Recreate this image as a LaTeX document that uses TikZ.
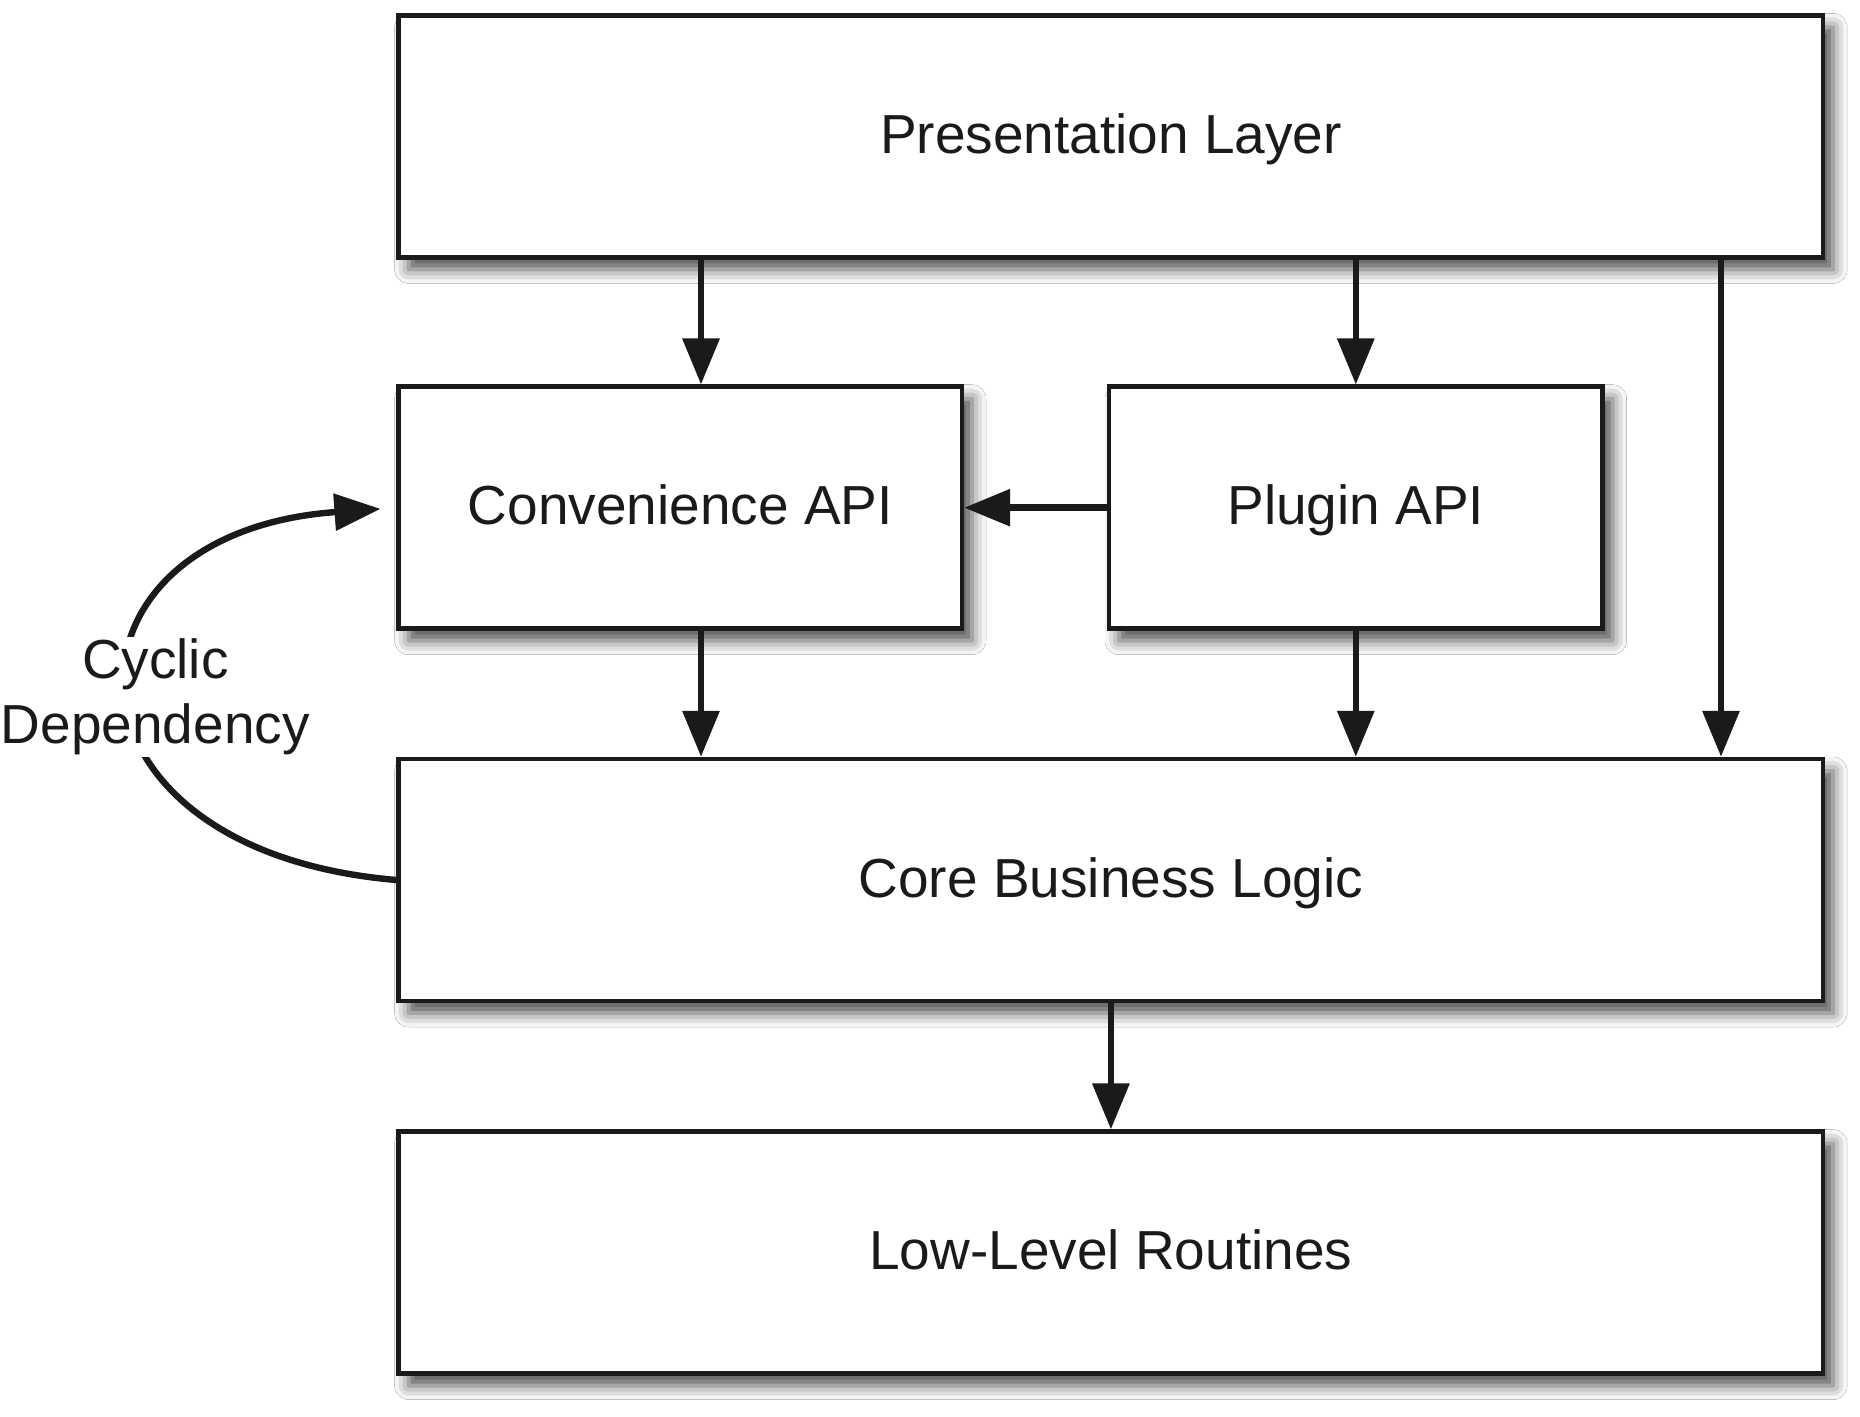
\documentclass[tikz,border=0pt]{standalone}
\usepackage{fontspec}
\setmainfont{Liberation Sans}
\usetikzlibrary{arrows.meta,shadows.blur,calc}
\definecolor{ink}{HTML}{1A1A18}
\tikzset{
  box/.style={draw=ink, line width=2.2pt, fill=white, rectangle, inner sep=0pt,
    minimum height=121pt, font=\fontsize{27.5}{33}\selectfont, text=ink,
    text height=19.8pt, text depth=2.75pt,
    blur shadow={shadow xshift=5pt, shadow yshift=-6pt, shadow blur radius=7pt, shadow opacity=70}},
  arr/.style={draw=ink, line width=3.2pt, -{Triangle[width=18pt,length=23pt]}},
  lbl/.style={font=\fontsize{27.5}{32.5}\selectfont, text=ink, align=center}
}
\begin{document}
\begin{tikzpicture}[x=0.5pt,y=-0.5pt]
\useasboundingbox (0,0) rectangle (1860,1417);
\fill[white] (0,0) rectangle (1860,1417);
\node[box, minimum width=712.3pt] (pres) at (1110.9,136.4) {Presentation Layer};
\node[box, minimum width=281.7pt] (conv) at (680.3,507.7) {Convenience API};
\node[box, minimum width=246.8pt] (plug) at (1355.8,507.7) {Plugin API};
\node[box, minimum width=712.3pt] (core) at (1110.9,880) {Core Business Logic};
\node[box, minimum width=712.3pt] (low) at (1110.9,1252.6) {Low-Level Routines};
\coordinate (c1) at (701,0);
\coordinate (c3) at (1721,0);
\draw[arr] (pres.south -| c1) -- (conv.north -| c1);
\draw[arr] (pres.south -| plug.north) -- (plug.north);
\draw[arr] (pres.south -| c3) -- (core.north -| c3);
\draw[arr] (plug.west) -- (conv.east);
\draw[arr] (conv.south -| c1) -- (core.north -| c1);
\draw[arr] (plug.south) -- (core.north -| plug.south);
\draw[arr] (core.south) -- (low.north);
\draw[arr, shorten >=8pt] (core.west) .. controls (43,850) and (43,533) .. (conv.west)
  node[pos=0.5, lbl, fill=white, inner sep=1pt, xshift=12pt, yshift=-2.5pt] (cyc) {Cyclic\\Dependency};
\end{tikzpicture}
\end{document}
